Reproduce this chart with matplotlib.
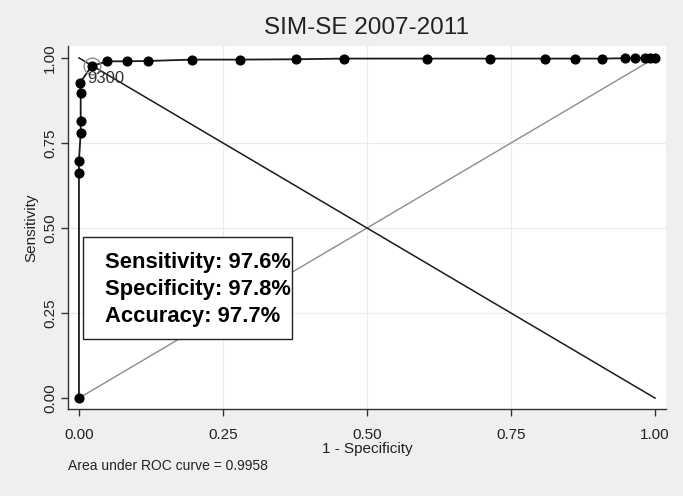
import matplotlib
matplotlib.use('Agg')
import matplotlib.pyplot as plt
from matplotlib.patches import Rectangle

plt.rcParams['font.family'] = ['Liberation Sans', 'DejaVu Sans']

# ROC points (1 - specificity, sensitivity)
fpr = [0.0, 0.0, 0.0, 0.003, 0.003, 0.003, 0.002, 0.022, 0.049, 0.083, 0.120,
       0.196, 0.280, 0.376, 0.460, 0.604, 0.714, 0.809, 0.861, 0.908, 0.948,
       0.965, 0.983, 0.991, 1.0]
tpr = [0.0, 0.661, 0.698, 0.780, 0.816, 0.898, 0.927, 0.976, 0.990, 0.990, 0.991,
       0.995, 0.995, 0.996, 0.998, 0.998, 0.998, 0.998, 0.998, 0.998, 0.999,
       0.999, 1.0, 1.0, 1.0]
cut_x, cut_y = 0.022, 0.976
cut_label = '9300'
ticks = [0, 0.25, 0.5, 0.75, 1.0]
tick_labels = ['0.00', '0.25', '0.50', '0.75', '1.00']
stats = ['Sensitivity: 97.6%', 'Specificity: 97.8%', 'Accuracy: 97.7%']
auc = 0.9958

fig = plt.figure(figsize=(6.83, 4.96), dpi=100, facecolor='#efefef')
ax = fig.add_axes([68/683, 1 - 409/496, (666 - 68)/683, (409 - 46)/496])
ax.set_facecolor('white')
ax.set_xlim(-0.019, 1.019)
ax.set_ylim(-0.032, 1.035)

for t in ticks[1:-1]:
    ax.axvline(t, color='#ebebeb', lw=0.8, zorder=0)
    ax.axhline(t, color='#ebebeb', lw=0.8, zorder=0)

ax.plot([0, 1], [0, 1], color='#8c8c8c', lw=1.0, zorder=1)
ax.plot([0, 1], [1, 0], color='#1a1a1a', lw=1.1, zorder=2)
ax.plot(fpr, tpr, color='#1a1a1a', lw=1.3, marker='o', ms=6.3,
        mfc='black', mec='black', zorder=3)
ax.plot([cut_x], [cut_y], marker='o', ms=12, mfc='none', mec='#8c8c8c',
        mew=1.0, zorder=4)
ax.text(cut_x - 0.007, cut_y - 0.015, cut_label, fontsize=12, color='#333333',
        ha='left', va='top', zorder=5)

ax.add_patch(Rectangle((0.007, 0.174), 0.363, 0.300, facecolor='white',
                       edgecolor='#222222', lw=1.0, zorder=6))
for i, s in enumerate(stats):
    ax.text(0.045, 0.400 - i * 0.080, s, fontsize=15.8, fontweight='bold',
            color='black', ha='left', va='center', zorder=7)

ax.set_xticks(ticks)
ax.set_xticklabels(tick_labels)
ax.set_yticks(ticks)
ax.set_yticklabels(tick_labels, rotation=90, va='center')
ax.tick_params(axis='both', direction='out', length=5, width=1, color='#333333',
               labelsize=11, labelcolor='#222222')
ax.tick_params(axis='x', pad=9)
ax.tick_params(axis='y', pad=3)
for side in ['top', 'right']:
    ax.spines[side].set_visible(False)
for side in ['left', 'bottom']:
    ax.spines[side].set_color('#333333')
    ax.spines[side].set_linewidth(1.0)

ax.set_xlabel('1 - Specificity', fontsize=11, color='#222222', labelpad=0)
ax.set_ylabel('Sensitivity', fontsize=11, color='#222222', labelpad=3)
ax.set_title('SIM-SE 2007-2011', fontsize=17.5, color='#222222', pad=9)

fig.text(68/683, 1 - 466/496, 'Area under ROC curve = %.4f' % auc,
         fontsize=10, color='#222222', ha='left', va='center')

fig.savefig('out.png', dpi=100, facecolor=fig.get_facecolor())
